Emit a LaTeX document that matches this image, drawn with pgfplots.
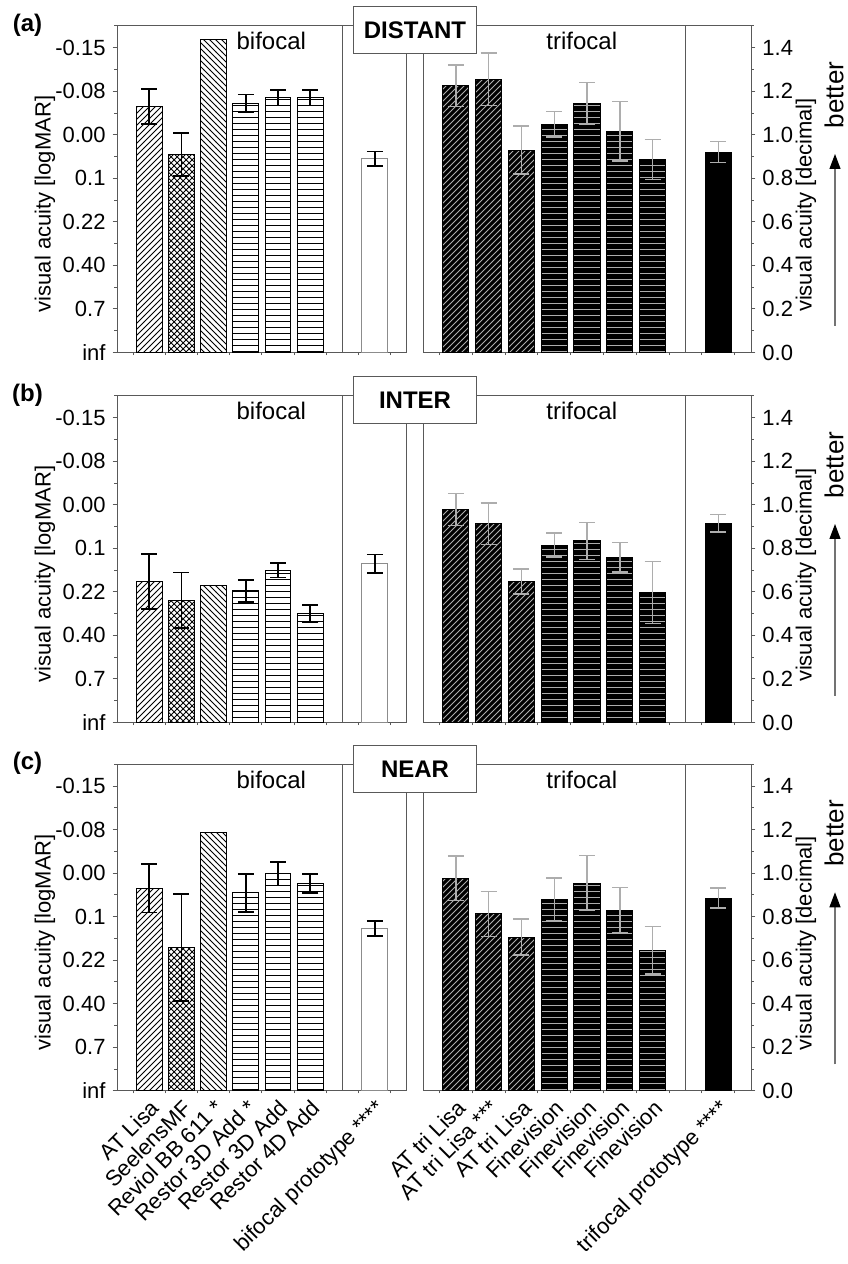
\documentclass[border=0pt]{standalone}
\usepackage{fontspec}
\setmainfont{Liberation Sans}
\usepackage{pgfplots}
\pgfplotsset{compat=1.18}
\usetikzlibrary{patterns,arrows.meta}
\definecolor{axgray}{gray}{0.35}
\definecolor{lg}{gray}{0.68}
\newcommand{\myfs}[1]{\fontsize{#1}{#1}\selectfont}

\pgfplotsset{
  panel/.style={scale only axis, height=163.25pt, ymin=0, ymax=1.5, anchor=north west,
    axis line style={draw=axgray, line width=0.5pt},
    tick style={draw=axgray, line width=0.5pt},
    tick align=outside, major tick length=2.2pt, minor tick length=1.3pt,
    ytick={0,0.2,0.4,0.6,0.8,1.0,1.2,1.4},
    minor ytick={0.1,0.3,0.5,0.7,0.9,1.1,1.3,1.5},
    tick label style={font=\myfs{11}},
    major x tick style={draw=none},
    xticklabel style={rotate=45, anchor=north east, inner sep=1pt},
  },
  leftax/.style={panel, width=145pt, xmin=0, xmax=9, xtick pos=left, ytick pos=left,
    xtick={1,2,3,4,5,6,8}, minor xtick={0.5,1.5,2.5,3.5,4.5,5.5,6.5,7.5,8.5},
    yticklabels={inf,0.7,0.40,0.22,0.1,0.00,-0.08,-0.15}},
  rightax/.style={panel, width=164pt, xmin=0, xmax=10, xtick pos=left, ytick pos=right,
    yticklabel pos=right,
    xtick={1,2,3,4,5,6,7,9}, minor xtick={0.5,1.5,2.5,3.5,4.5,5.5,6.5,7.5,8.5,9.5},
    yticklabels={0.0,0.2,0.4,0.6,0.8,1.0,1.2,1.4}},
  nolab/.style={xticklabels={{},{},{},{},{},{},{},{}}},
  mybar/.style={ybar, bar width=0.8, bar shift=0pt, line width=0.5pt},
  ebk/.style={error bars/.cd, y dir=both, y explicit,
    error bar style={black, line width=0.9pt},
    error mark options={rotate=90, black, line width=0.9pt, mark size=4pt}},
  egr/.style={error bars/.cd, y dir=both, y explicit,
    error bar style={lg, line width=0.7pt},
    error mark options={rotate=90, lg, line width=0.7pt, mark size=4pt}},
}

\begin{document}
\begin{tikzpicture}
\useasboundingbox (0,0) rectangle (423.5pt,632pt);

% ================= (a) DISTANT =================
\begin{axis}[leftax, nolab, at={(58.5pt,619pt)}]
\addplot[mybar, draw=black, pattern=north east lines, ebk] coordinates {(1,1.13) +- (0,0.08)};
\addplot[mybar, draw=black, pattern=crosshatch, ebk] coordinates {(2,0.91) +- (0,0.10)};
\addplot[mybar, draw=black, pattern=north west lines] coordinates {(3,1.44)};
\addplot[mybar, draw=black, pattern=horizontal lines, ebk] coordinates {(4,1.145) +- (0,0.04) (5,1.17) +- (0,0.035) (6,1.17) +- (0,0.035)};
\addplot[mybar, draw=black!45, fill=white, ebk] coordinates {(8,0.89) +- (0,0.033)};
\draw[axgray, line width=0.5pt] (axis cs:7,0) -- (axis cs:7,1.5);
\node[font=\myfs{12}] at (axis cs:4.79,1.43) {bifocal};
\end{axis}
\begin{axis}[rightax, nolab, at={(211.5pt,619pt)}]
\addplot[mybar, draw=black, fill=black, postaction={pattern=north east lines, pattern color=lg}, egr] coordinates {(1,1.226) +- (0,0.095) (2,1.255) +- (0,0.12) (3,0.93) +- (0,0.11)};
\addplot[mybar, draw=black, fill=black, postaction={pattern=horizontal lines, pattern color=lg}, egr] coordinates {(4,1.048) +- (0,0.058) (5,1.144) +- (0,0.095) (6,1.017) +- (0,0.137) (7,0.887) +- (0,0.092)};
\addplot[mybar, draw=black, fill=black, egr] coordinates {(9,0.921) +- (0,0.047)};
\draw[axgray, line width=0.5pt] (axis cs:8,0) -- (axis cs:8,1.5);
\node[font=\myfs{12}] at (axis cs:4.84,1.43) {trifocal};
\end{axis}

% ================= (b) INTER =================
\begin{axis}[leftax, nolab, at={(58.5pt,434pt)}]
\addplot[mybar, draw=black, pattern=north east lines, ebk] coordinates {(1,0.648) +- (0,0.127)};
\addplot[mybar, draw=black, pattern=crosshatch, ebk] coordinates {(2,0.562) +- (0,0.127)};
\addplot[mybar, draw=black, pattern=north west lines] coordinates {(3,0.629)};
\addplot[mybar, draw=black, pattern=horizontal lines, ebk] coordinates {(4,0.605) +- (0,0.05) (5,0.70) +- (0,0.034) (6,0.50) +- (0,0.04)};
\addplot[mybar, draw=black!45, fill=white, ebk] coordinates {(8,0.729) +- (0,0.043)};
\draw[axgray, line width=0.5pt] (axis cs:7,0) -- (axis cs:7,1.5);
\node[font=\myfs{12}] at (axis cs:4.79,1.43) {bifocal};
\end{axis}
\begin{axis}[rightax, nolab, at={(211.5pt,434pt)}]
\addplot[mybar, draw=black, fill=black, postaction={pattern=north east lines, pattern color=lg}, egr] coordinates {(1,0.978) +- (0,0.074) (2,0.913) +- (0,0.096) (3,0.648) +- (0,0.058)};
\addplot[mybar, draw=black, fill=black, postaction={pattern=horizontal lines, pattern color=lg}, egr] coordinates {(4,0.815) +- (0,0.055) (5,0.834) +- (0,0.086) (6,0.76) +- (0,0.068) (7,0.597) +- (0,0.142)};
\addplot[mybar, draw=black, fill=black, egr] coordinates {(9,0.916) +- (0,0.04)};
\draw[axgray, line width=0.5pt] (axis cs:8,0) -- (axis cs:8,1.5);
\node[font=\myfs{12}] at (axis cs:4.84,1.43) {trifocal};
\end{axis}

% ================= (c) NEAR =================
\begin{axis}[leftax, at={(58.5pt,249.85pt)},
  xticklabels={AT Lisa, SeelensMF, Reviol BB 611 *, Restor 3D Add *, Restor 3D Add, Restor 4D Add, bifocal prototype ****}]
\addplot[mybar, draw=black, pattern=north east lines, ebk] coordinates {(1,0.931) +- (0,0.112)};
\addplot[mybar, draw=black, pattern=crosshatch, ebk] coordinates {(2,0.659) +- (0,0.245)};
\addplot[mybar, draw=black, pattern=north west lines] coordinates {(3,1.187)};
\addplot[mybar, draw=black, pattern=horizontal lines, ebk] coordinates {(4,0.91) +- (0,0.087) (5,0.997) +- (0,0.054) (6,0.953) +- (0,0.044)};
\addplot[mybar, draw=black!45, fill=white, ebk] coordinates {(8,0.746) +- (0,0.035)};
\draw[axgray, line width=0.5pt] (axis cs:7,0) -- (axis cs:7,1.5);
\node[font=\myfs{12}] at (axis cs:4.79,1.43) {bifocal};
\end{axis}
\begin{axis}[rightax, at={(211.5pt,249.85pt)},
  xticklabels={AT tri Lisa, AT tri Lisa ***, AT tri Lisa, Finevision, Finevision, Finevision, Finevision, trifocal prototype ****}]
\addplot[mybar, draw=black, fill=black, postaction={pattern=north east lines, pattern color=lg}, egr] coordinates {(1,0.976) +- (0,0.102) (2,0.813) +- (0,0.103) (3,0.706) +- (0,0.083)};
\addplot[mybar, draw=black, fill=black, postaction={pattern=horizontal lines, pattern color=lg}, egr] coordinates {(4,0.879) +- (0,0.098) (5,0.954) +- (0,0.127) (6,0.83) +- (0,0.105) (7,0.646) +- (0,0.11)};
\addplot[mybar, draw=black, fill=black, egr] coordinates {(9,0.885) +- (0,0.046)};
\draw[axgray, line width=0.5pt] (axis cs:8,0) -- (axis cs:8,1.5);
\node[font=\myfs{12}] at (axis cs:4.84,1.43) {trifocal};
\end{axis}

% ================= annotations =================
\foreach \top/\lab/\ttl in {26/a/DISTANT, 396/b/INTER, 764.3/c/NEAR}{
  \node[draw=axgray, fill=white, line width=0.5pt, minimum width=61.5pt, minimum height=23.5pt,
        font=\bfseries\myfs{12}, inner sep=0pt] at (207.5pt,{(1264-\top-4.5)*0.5pt}) {\ttl};
  \node[font=\bfseries\myfs{12}] at (13.75pt,{(1264-\top+1)*0.5pt}) {(\lab)};
  \node[rotate=90, font=\myfs{11}] at (22.5pt,{(1264-\top-178)*0.5pt}) {visual acuity [logMAR]};
  \node[rotate=90, font=\myfs{11}] at (403pt,{(1264-\top-179)*0.5pt}) {visual acuity [decimal]};
  \node[rotate=90, font=\myfs{13}] at (417pt,{(1264-\top-69)*0.5pt}) {better};
  \draw[black!55, line width=0.6pt, -{Triangle[length=7.5pt, width=5.5pt, color=black]}]
     (417.5pt,{(1264-\top-300)*0.5pt}) -- (417.5pt,{(1264-\top-128)*0.5pt});
}
\end{tikzpicture}
\end{document}
